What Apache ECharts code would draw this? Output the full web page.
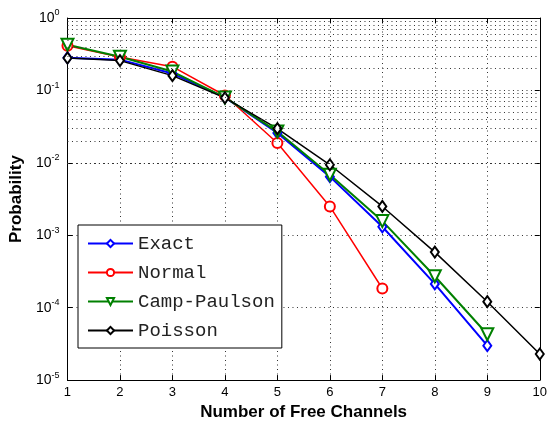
<!DOCTYPE html>
<html>
<head>
<meta charset="utf-8">
<script src="https://cdn.jsdelivr.net/npm/echarts@6/dist/echarts.min.js"></script>
<style>
	html, body { margin: 0; padding: 0; background: #fff; }
	#chart { width: 550px; height: 426px; }
</style>
</head>
<body>
<div id="chart"></div>
<script>
	// free channels on the x axis
	var channels = [1, 2, 3, 4, 5, 6, 7, 8, 9, 10];
	var exact = [0.283, 0.266, 0.171, 0.080, 0.0258, 0.00645, 0.00131, 0.000213, 0.0000299];
	var normal = [0.413, 0.29, 0.213, 0.085, 0.0188, 0.0025, 0.000184];
	var campPaulson = [0.427, 0.292, 0.182, 0.080, 0.027, 0.00685, 0.00157, 0.000272, 0.000043];
	var poisson = [0.28, 0.258, 0.160, 0.079, 0.0297, 0.0094, 0.0025, 0.000585, 0.000121, 0.0000229];
	var yDecades = [-5, -4, -3, -2, -1];
	var yMinorSteps = [2, 3, 4, 5, 6, 7, 8, 9];

	function pairs(vals) {
		return vals.map(function (v, i) { return [channels[i], v]; });
	}

	// minor grid lines (2..9 x 10^k) - log axis won't draw these itself
	var minorLines = [];
	yDecades.forEach(function (d) {
		yMinorSteps.forEach(function (m) {
			minorLines.push({ yAxis: m * Math.pow(10, d) });
		});
	});

	var dotted = { color: '#333', width: 1, type: [1, 3.5] };
	var fontColor = '#000';

	var chart = echarts.init(document.getElementById('chart'));
	chart.setOption({
		backgroundColor: '#fff',
		animation: false,
		grid: { left: 67, right: 7, top: 18, bottom: 43 },
		legend: {
			orient: 'vertical',
			left: 78,
			top: 225,
			padding: [9, 7, 8, 9],
			itemWidth: 45,
			itemHeight: 9,
			itemGap: 10,
			backgroundColor: '#fff',
			borderColor: '#000',
			borderWidth: 1,
			borderRadius: 0,
			textStyle: { fontFamily: 'Liberation Mono', fontSize: 19, color: '#222' },
			data: ['Exact', 'Normal', 'Camp-Paulson', 'Poisson']
		},
		xAxis: [{
			type: 'value',
			min: 1,
			max: 10,
			interval: 1,
			name: 'Number of Free Channels',
			nameLocation: 'middle',
			nameGap: 20,
			nameTextStyle: { fontFamily: 'Liberation Sans', fontWeight: 'bold', fontSize: 17, color: fontColor },
			axisLine: { show: true, lineStyle: { color: '#000', width: 1 } },
			axisTick: { show: true, inside: true, length: 5, lineStyle: { color: '#000' } },
			axisLabel: { color: fontColor, fontFamily: 'Liberation Sans', fontSize: 13, margin: 6 },
			splitLine: { show: true, lineStyle: dotted }
		}, {
			type: 'value',
			position: 'top',
			min: 1,
			max: 10,
			interval: 1,
			axisLine: { show: true, lineStyle: { color: '#000', width: 1 } },
			axisTick: { show: true, inside: true, length: 5, lineStyle: { color: '#000' } },
			axisLabel: { show: false },
			splitLine: { show: false }
		}],
		yAxis: [{
			type: 'log',
			logBase: 10,
			min: 1e-5,
			max: 1,
			name: 'Probability',
			nameLocation: 'middle',
			nameGap: 37,
			nameTextStyle: { fontFamily: 'Liberation Sans', fontWeight: 'bold', fontSize: 17, color: fontColor },
			axisLine: { show: true, lineStyle: { color: '#000', width: 1 } },
			axisTick: { show: true, inside: true, length: 5, lineStyle: { color: '#000' } },
			axisLabel: {
				margin: 8,
				formatter: function (v) {
					var e = Math.round(Math.log10(v));
					return '{b|10}{s|' + e + '}';
				},
				rich: {
					b: { fontFamily: 'Liberation Sans', fontSize: 14, color: fontColor },
					s: { fontFamily: 'Liberation Sans', fontSize: 9, color: fontColor, padding: [0, 0, 10, 0] }
				}
			},
			splitLine: { show: true, lineStyle: dotted }
		}, {
			type: 'log',
			logBase: 10,
			min: 1e-5,
			max: 1,
			position: 'right',
			axisLine: { show: true, lineStyle: { color: '#000', width: 1 } },
			axisTick: { show: true, inside: true, length: 5, lineStyle: { color: '#000' } },
			axisLabel: { show: false },
			splitLine: { show: false }
		}],
		series: [{
				name: 'minor-grid',
				type: 'line',
				data: [],
				silent: true,
				markLine: {
					silent: true,
					symbol: 'none',
					animation: false,
					label: { show: false },
					lineStyle: dotted,
					emphasis: { disabled: true },
					data: minorLines
				}
			},
			{
				name: 'Exact',
				type: 'line',
				color: '#0000ff',
				symbol: 'emptyDiamond',
				symbolSize: [8, 11],
				lineStyle: { width: 2 },
				itemStyle: { borderWidth: 2 },
				data: pairs(exact)
			},
			{
				name: 'Normal',
				type: 'line',
				color: '#ff0000',
				symbol: 'emptyCircle',
				symbolSize: 10,
				lineStyle: { width: 1.5 },
				itemStyle: { borderWidth: 1.5 },
				data: pairs(normal)
			},
			{
				name: 'Camp-Paulson',
				type: 'line',
				color: '#008000',
				symbol: 'emptyTriangle',
				symbolRotate: 180,
				symbolSize: 12,
				lineStyle: { width: 2 },
				itemStyle: { borderWidth: 2 },
				data: pairs(campPaulson)
			},
			{
				name: 'Poisson',
				type: 'line',
				color: '#000000',
				symbol: 'emptyDiamond',
				symbolSize: [8, 11],
				lineStyle: { width: 1.5 },
				itemStyle: { borderWidth: 2 },
				data: pairs(poisson)
			}
		]
	});
</script>
</body>
</html>
